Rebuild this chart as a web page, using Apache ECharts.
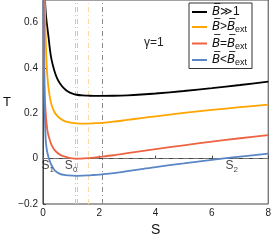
<!DOCTYPE html>
<html><head><meta charset="utf-8">
<script src="https://cdn.jsdelivr.net/npm/echarts@6/dist/echarts.min.js"></script>
<style>html,body{margin:0;padding:0;background:#fff}#c{width:274px;height:242px}</style>
</head><body><div id="c"></div>
<script>
// Shared entropy samples
const S = [0.02,0.03,0.05,0.07,0.1,0.13,0.16,0.2,0.25,0.3,0.4,0.5,0.6,0.75,0.9,1.05,1.2,1.4,1.6,1.8,2.1,2.5,3,3.5,4,5,6,7,8];
const T_much = [1.3,1.05,0.82,0.71,0.645,0.605,0.575,0.535,0.48,0.44,0.39,0.355,0.333,0.31,0.295,0.287,0.282,0.279,0.278,0.277,0.277,0.2775,0.2795,0.283,0.2875,0.2985,0.311,0.325,0.340];
const T_gt   = [1.1,0.95,0.78,0.68,0.52,0.42,0.36,0.31,0.268,0.24,0.207,0.19,0.178,0.167,0.161,0.158,0.156,0.155,0.155,0.156,0.158,0.163,0.171,0.179,0.187,0.202,0.215,0.227,0.238];
const T_eq   = [0.9,0.7,0.40,0.268,0.20,0.155,0.124,0.10,0.08,0.062,0.040,0.027,0.018,0.010,0.005,0.0015,0.0,0.0008,0.002,0.005,0.009,0.015,0.024,0.033,0.042,0.059,0.075,0.090,0.104];
const T_lt   = [0.7,0.5,0.268,0.18,0.08,0.045,0.025,0.006,-0.013,-0.028,-0.049,-0.060,-0.067,-0.072,-0.074,-0.075,-0.0755,-0.075,-0.074,-0.072,-0.069,-0.064,-0.055,-0.046,-0.037,-0.021,-0.005,0.009,0.022];
const names = ['much','gt','eq','lt'];
const colors = ['#000000','#FFA500','#EE6342','#5B86C5'];
const lightColors = ['#8a8a8a','#FCD9A6','#F4B4A4','#BCCBE3'];
const minimaS = [2.1,1.6,1.22,1.16];
const pointLabels = [['S','1',0.17,-0.03],['S','0',1.0,-0.03],['S','2',6.7,-0.032]];
const xTicks = {min:0,max:8,interval:2};
const yTicks = {min:-0.2,max:0.7,interval:0.2};

const legendText = {
  much:'{b|B\u0305}{t|\u226B1}',
  gt:'{b|B\u0305}{t|>}{b|B\u0305}{s|ext}',
  eq:'{b|B\u0305}{t|=}{b|B\u0305}{s|ext}',
  lt:'{b|B\u0305}{t|<}{b|B\u0305}{s|ext}'
};
const tables=[T_much,T_gt,T_eq,T_lt];
const chart = echarts.init(document.getElementById('c'));
const series = tables.map((T,i)=>({
  name:names[i], type:'line', data:S.map((s,j)=>[s,T[j]]), showSymbol:false,
  smooth:0.3, clip:true, z:3+i,
  lineStyle:{color:colors[i],width:1.8}, itemStyle:{color:colors[i]},
  markLine:{silent:true,symbol:'none',label:{show:false},animation:false,z:1,
    data:[{xAxis:minimaS[i],lineStyle:{color:lightColors[i],type:[5,3,1,3],width:1}}]
      .concat(i===0?[{yAxis:0,lineStyle:{color:'#777',type:[6,4],width:1}}]:[])}
}));
series.push({type:'scatter',symbolSize:0,silent:true,z:10,
  data:pointLabels.map(p=>({value:[p[2],p[3]],name:p[0]+p[1]})),
  label:{show:true,position:'inside',formatter:(p)=>{const q=pointLabels[p.dataIndex];return '{m|'+q[0]+'}{s|'+q[1]+'}';},
    rich:{m:{fontSize:12,fontFamily:'Liberation Sans',color:'#111',lineHeight:16,verticalAlign:'middle'},
          s:{fontSize:8,fontFamily:'Liberation Sans',color:'#111',lineHeight:8,verticalAlign:'bottom'}}}});
chart.setOption({
  animation:false,
  grid:{left:40,right:4,top:0,bottom:33,show:true,borderColor:'#444',borderWidth:1},
  xAxis:{type:'value',min:xTicks.min,max:xTicks.max,interval:xTicks.interval,name:'S',nameLocation:'middle',nameGap:19,
    nameTextStyle:{fontSize:14,fontFamily:'Liberation Sans',color:'#111'},
    axisLine:{lineStyle:{color:'#444'}},axisTick:{inside:true,length:3,lineStyle:{color:'#444'}},
    axisLabel:{fontSize:10,fontFamily:'Liberation Sans',color:'#222',margin:4},splitLine:{show:false}},
  yAxis:{type:'value',min:yTicks.min,max:yTicks.max,interval:yTicks.interval,name:'T',nameLocation:'middle',nameRotate:0,nameGap:32,
    nameTextStyle:{fontSize:13,fontFamily:'Liberation Sans',color:'#111'},
    axisLine:{show:true,lineStyle:{color:'#444'}},axisTick:{show:true,inside:true,length:3,lineStyle:{color:'#444'}},
    axisLabel:{fontSize:10,fontFamily:'Liberation Sans',color:'#222',margin:5,showMaxLabel:false,
      formatter:v=>String(Math.round(v*10)/10).replace('-','\u2212')},splitLine:{show:false}},
  legend:{orient:'vertical',left:189,top:3,itemWidth:15,itemHeight:2,icon:'rect',itemGap:3,
    padding:[3,5,1,3],backgroundColor:'#fff',borderColor:'#333',borderWidth:1,
    data:names,formatter:n=>legendText[n],
    textStyle:{width:53,overflow:'none',rich:{
      b:{fontSize:12,fontFamily:'DejaVu Sans',fontStyle:'italic',color:'#111',lineHeight:15,verticalAlign:'middle',width:8},
      t:{fontSize:12,fontFamily:'Liberation Sans',color:'#111',lineHeight:15,verticalAlign:'middle'},
      s:{fontSize:9,fontFamily:'Liberation Sans',color:'#111',lineHeight:9,verticalAlign:'bottom'}}}},
  graphic:[{type:'text',left:144,top:37,style:{text:'\u03B3=1',fontSize:12,fontFamily:'Liberation Sans',fill:'#222'}}],
  series:series
});
</script></body></html>
